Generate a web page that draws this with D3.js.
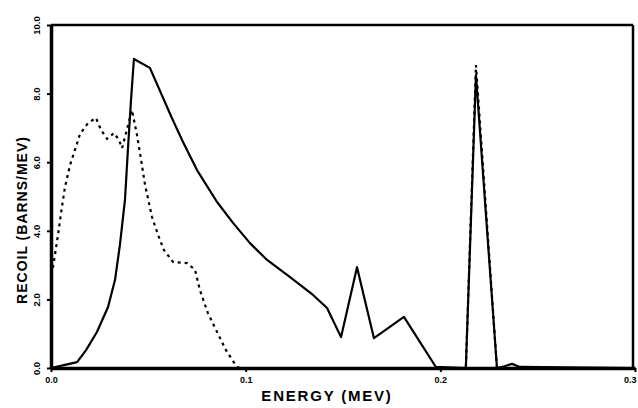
<!DOCTYPE html>
<html><head><meta charset="utf-8">
<script src="https://cdn.jsdelivr.net/npm/d3@7"></script>
<style>
html,body{margin:0;padding:0;background:#fff;}
svg{display:block;}
text{font-family:"Liberation Sans",Arial,sans-serif;font-weight:bold;fill:#000;}
</style></head>
<body>
<svg id="chart" width="638" height="408"></svg>
<script>
// Solid curve: [energy MeV, recoil barns/MeV]
const solidEnergy = [0, 0.0072, 0.0134, 0.018, 0.0236, 0.0293, 0.0329, 0.0354, 0.038, 0.0395, 0.0411, 0.0426, 0.0508, 0.0621, 0.0673, 0.075, 0.0853, 0.0935, 0.1022, 0.111, 0.1228, 0.1346, 0.1418, 0.149, 0.1572, 0.1659, 0.1813, 0.1977, 0.2131, 0.2183, 0.2291, 0.233, 0.2368, 0.2409, 0.3];
const solidRecoil = [0, 0.09, 0.17, 0.52, 1.05, 1.78, 2.57, 3.59, 4.90, 6.36, 7.81, 9.01, 8.75, 7.29, 6.65, 5.77, 4.84, 4.23, 3.64, 3.15, 2.65, 2.13, 1.75, 0.90, 2.94, 0.87, 1.49, 0.03, 0, 8.54, 0, 0.05, 0.12, 0.03, 0];
// Dashed curve
const dashedEnergy = [0.001, 0.0036, 0.0056, 0.0072, 0.0098, 0.0123, 0.0149, 0.019, 0.0231, 0.0257, 0.0288, 0.0324, 0.0349, 0.0365, 0.0416, 0.0442, 0.0467, 0.0483, 0.0519, 0.055, 0.058, 0.0627, 0.0699, 0.074, 0.0765, 0.0806, 0.0853, 0.0899, 0.0955, 0.097, 0.2131, 0.2183, 0.2291];
const dashedRecoil = [2.92, 3.88, 4.69, 5.28, 5.92, 6.36, 6.82, 7.14, 7.29, 6.94, 6.68, 6.85, 6.65, 6.41, 7.52, 6.79, 5.92, 5.34, 4.40, 3.88, 3.44, 3.09, 3.06, 2.86, 2.27, 1.60, 1.05, 0.52, 0.03, 0, 0, 8.83, 0];
const xTicks = [0, 0.1, 0.2, 0.3];
const xTickLabels = ["0.0", "0.1", "0.2", "0.3"];
const yTicks = [0, 2, 4, 6, 8, 10];
const yTickLabels = ["0.0", "2.0", "4.0", "6.0", "8.0", "10.0"];

const svg = d3.select("#chart");
const L = 51, R = 635, T = 25, B = 368;
const x = d3.scaleLinear().domain([0, 0.3]).range([L, R]);
const y = d3.scaleLinear().domain([0, 10]).range([B, T]);

// frame
svg.append("line").attr("x1", L).attr("x2", R - 2).attr("y1", T).attr("y2", T).attr("stroke", "#000").attr("stroke-width", 2.5);
svg.append("line").attr("x1", R - 2).attr("x2", R - 2).attr("y1", T).attr("y2", B).attr("stroke", "#000").attr("stroke-width", 2.5);

const xAxis = d3.axisBottom(x).tickValues(xTicks).tickFormat((d, i) => xTickLabels[i]).tickSize(4).tickSizeOuter(0);
const gx = svg.append("g").attr("transform", `translate(0,${B})`).call(xAxis);
gx.select(".domain").attr("stroke-width", 3.5);
gx.selectAll(".tick line").attr("stroke-width", 2);
gx.selectAll(".tick text").attr("font-size", 9).attr("dy", "0.9em").attr("font-family", "'DejaVu Sans',sans-serif").attr("font-weight", "bold");
gx.selectAll(".tick text").filter((d, i) => i === xTicks.length - 1).attr("text-anchor", "end").attr("x", 1);

const yAxis = d3.axisLeft(y).tickValues(yTicks).tickFormat((d, i) => yTickLabels[i]).tickSize(4).tickSizeOuter(0);
const gy = svg.append("g").attr("transform", `translate(${L},0)`).call(yAxis);
gy.select(".domain").attr("stroke-width", 3.5);
gy.selectAll(".tick line").attr("stroke-width", 2);
gy.selectAll(".tick text")
  .attr("font-size", 9.5).attr("font-family", "'DejaVu Sans',sans-serif").attr("font-weight", "bold")
  .attr("text-anchor", "middle").attr("x", 0).attr("dy", 0)
  .attr("transform", "translate(-11,0) rotate(-90)");

const line = d3.line().x(d => x(d[0])).y(d => y(d[1]));
const solid = solidEnergy.map((e, i) => [e, solidRecoil[i]]);
const dashed = dashedEnergy.map((e, i) => [e, dashedRecoil[i]]);

svg.append("path").datum(dashed).attr("d", line).attr("fill", "none")
  .attr("stroke", "#000").attr("stroke-width", 2.2).attr("stroke-dasharray", "3,4");
svg.append("path").datum(solid).attr("d", line).attr("fill", "none")
  .attr("stroke", "#000").attr("stroke-width", 2.2).attr("stroke-linejoin", "round");

svg.append("text").attr("x", 327).attr("y", 401).attr("text-anchor", "middle")
  .attr("font-size", 15).attr("letter-spacing", 1.8).text("ENERGY (MEV)");
svg.append("text").attr("transform", "translate(27,220) rotate(-90)").attr("text-anchor", "middle")
  .attr("font-size", 14).attr("letter-spacing", 1).text("RECOIL (BARNS/MEV)");
</script>
</body></html>
